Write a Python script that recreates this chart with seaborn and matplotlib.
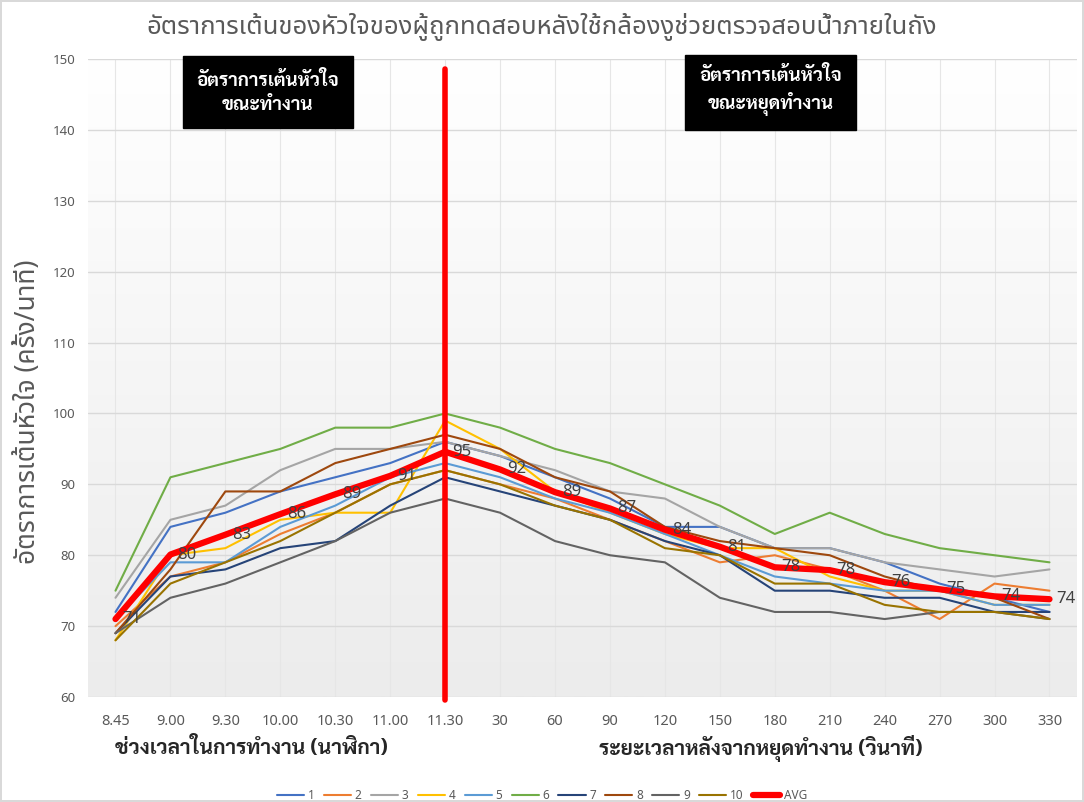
import matplotlib
matplotlib.use("Agg")
import matplotlib.pyplot as plt
import numpy as np
import pandas as pd
import seaborn as sns

# categories: clock time while working, then seconds after stopping
categories = ["8.45", "9.00", "9.30", "10.00", "10.30", "11.00", "11.30",
              "30", "60", "90", "120", "150", "180", "210", "240", "270", "300", "330"]

s1 = [72, 84, 86, 89, 91, 93, 96, 94, 91, 88, 84, 84, 81, 81, 79, 76, 74, 72]
s2 = [70, 77, 79, 83, 86, 90, 92, 90, 88, 85, 82, 79, 80, 78, 75, 71, 76, 75]
s3 = [74, 85, 87, 92, 95, 95, 96, 94, 92, 89, 88, 84, 81, 81, 79, 78, 77, 78]
s4 = [68, 80, 81, 85, 86, 86, 99, 95, 89, 86, 83, 81, 81, 77, 75, 75, 73, 73]
s5 = [71, 79, 79, 84, 87, 91, 93, 91, 88, 86, 83, 80, 77, 76, 75, 75, 73, 73]
s6 = [75, 91, 93, 95, 98, 98, 100, 98, 95, 93, 90, 87, 83, 86, 83, 81, 80, 79]
s7 = [69, 77, 78, 81, 82, 87, 91, 89, 87, 85, 82, 80, 75, 75, 74, 74, 72, 72]
s8 = [69, 78, 89, 89, 93, 95, 97, 95, 91, 89, 84, 82, 81, 80, 77, 75, 74, 71]
s9 = [69, 74, 76, 79, 82, 86, 88, 86, 82, 80, 79, 74, 72, 72, 71, 72, 72, 71]
s10 = [68, 76, 79, 82, 86, 90, 92, 90, 87, 85, 81, 80, 76, 76, 73, 72, 72, 71]
avg = [71.0, 80.1, 82.9, 85.8, 88.6, 91.2, 94.6, 92.1, 88.9, 86.6, 83.6, 81.2,
       78.3, 77.9, 76.2, 75.2, 74.2, 73.8]

series_names = ["1", "2", "3", "4", "5", "6", "7", "8", "9", "10"]
series_values = [s1, s2, s3, s4, s5, s6, s7, s8, s9, s10]
colors = ["#4472C4", "#ED7D31", "#A5A5A5", "#FFC000", "#5B9BD5",
          "#70AD47", "#264478", "#9E480E", "#636363", "#997300"]

title = "อัตราการเต้นของหัวใจของผู้ถูกทดสอบหลังใช้กล้องงูช่วยตรวจสอบน้ำภายในถัง"
ylabel = "อัตราการเต้นหัวใจ (ครั้ง/นาที)"
xlabel_left = "ช่วงเวลาในการทำงาน (นาฬิกา)"
xlabel_right = "ระยะเวลาหลังจากหยุดทำงาน (วินาที)"
box_left = "อัตราการเต้นหัวใจ\nขณะทำงาน"
box_right = "อัตราการเต้นหัวใจ\nขณะหยุดทำงาน"

sns.set_style("white")
plt.rcParams["font.family"] = ["Noto Sans Thai", "DejaVu Sans"]
bold_family = ["Sarabun", "Noto Sans Thai", "DejaVu Sans"]

# long-form table for seaborn
pos = np.arange(len(categories))
rows = []
for name, vals in zip(series_names, series_values):
    for p, v in zip(pos, vals):
        rows.append({"pos": p, "bpm": v, "subject": name})
df = pd.DataFrame(rows)
df_avg = pd.DataFrame({"pos": pos, "bpm": avg})

fig = plt.figure(figsize=(10.84, 8.02), dpi=100)
ax = fig.add_axes([0.0812, 0.1309, 0.9123, 0.7955])

# plot-area gradient (white at top to light grey at bottom)
grad = np.linspace(0, 1, 256).reshape(-1, 1)
ax.imshow(grad, extent=[0, 1, 0, 1], transform=ax.transAxes, aspect="auto",
          cmap=matplotlib.colors.LinearSegmentedColormap.from_list("bg", ["#ffffff", "#ececec"]),
          zorder=0)

sns.lineplot(data=df, x="pos", y="bpm", hue="subject", hue_order=series_names,
             palette=colors, linewidth=1.5, legend=False, ax=ax, zorder=3)
sns.lineplot(data=df_avg, x="pos", y="bpm", color="#FF0000", linewidth=4.5,
             legend=False, ax=ax, zorder=5)

# data labels for average line
for p, v in zip(pos, avg):
    ax.annotate(f"{v:.0f}", (p, v), xytext=(5, 0), textcoords="offset points",
                ha="left", va="center", fontsize=12, color="#404040",
                zorder=6, annotation_clip=False)

# divider between working period and rest period
split = categories.index("11.30")
ax.axvline(split, ymin=-0.005, ymax=0.985, color="#FF0000", linewidth=4, zorder=7,
           clip_on=False)

ax.set_xlim(-0.5, len(categories) - 0.5)
ax.set_ylim(60, 150)
ax.set_yticks(np.arange(60, 151, 10))
ax.set_xticks(pos)
ax.set_xticklabels(categories)
ax.grid(True, axis="y", color="#d9d9d9", linewidth=1)
ax.grid(True, axis="x", color="#e6e6e6", linewidth=0.8)
ax.set_axisbelow(True)
for sp in ax.spines.values():
    sp.set_visible(False)
ax.tick_params(axis="both", length=0, colors="#595959")
ax.tick_params(axis="x", pad=12, labelsize=10.5)
ax.tick_params(axis="y", pad=9, labelsize=9.5)
ax.set_xlabel("")
ax.set_ylabel(ylabel, fontsize=19, color="#595959")
ax.yaxis.set_label_coords(-0.047, 0.447)

fig.text(0.5, 0.966, title, ha="center", va="center", fontsize=18.5, color="#595959")
fig.text(0.106, 0.067, xlabel_left, ha="left", va="center", fontsize=15,
         fontweight="bold", color="#262626", family=bold_family)
fig.text(0.553, 0.067, xlabel_right, ha="left", va="center", fontsize=15,
         fontweight="bold", color="#262626", family=bold_family)

ax.text(0.182, 0.948, box_left, transform=ax.transAxes, ha="center", va="center",
        fontsize=13.5, fontweight="bold", color="white", linespacing=1.45, zorder=8,
        family=bold_family,
        bbox=dict(boxstyle="square,pad=0.75", fc="black", ec="black"))
ax.text(0.69, 0.950, box_right, transform=ax.transAxes, ha="center", va="center",
        fontsize=13.5, fontweight="bold", color="white", linespacing=1.45, zorder=8,
        family=bold_family,
        bbox=dict(boxstyle="square,pad=0.75", fc="black", ec="black"))

handles = ax.get_lines()[:len(series_names) + 1]
labels = series_names + ["AVG"]
fig.legend(handles, labels, loc="center", bbox_to_anchor=(0.5, 0.008), ncol=11,
           frameon=False, fontsize=8.5, handlelength=2.3, columnspacing=0.8,
           handletextpad=0.3, labelcolor="#595959")

fig.patch.set_edgecolor("#d9d9d9")
fig.patch.set_linewidth(1.5)

fig.savefig("out.png", dpi=100)
